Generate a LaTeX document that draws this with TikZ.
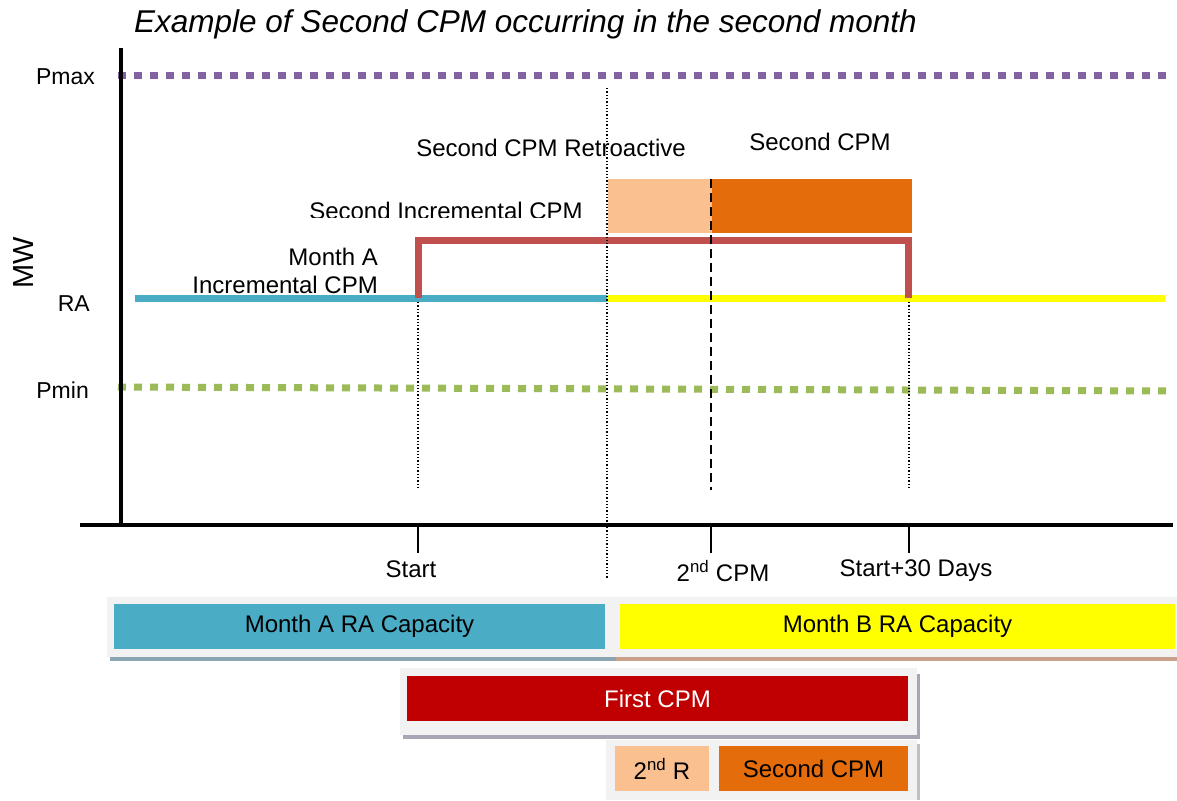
\documentclass[tikz,border=0pt]{standalone}
\usepackage{fontspec}
\setmainfont{Liberation Sans}
\usetikzlibrary{positioning}
\definecolor{pmaxPurple}{HTML}{8064A2}
\definecolor{pminGreen}{HTML}{9BBB59}
\definecolor{raBlue}{HTML}{4BACC6}
\definecolor{raYellow}{HTML}{FFFF00}
\definecolor{cpmRed}{HTML}{C0504D}
\definecolor{firstRed}{HTML}{C00000}
\definecolor{retroOrange}{HTML}{FAC090}
\definecolor{secondOrange}{HTML}{E46C0A}
\definecolor{frameGray}{HTML}{F2F2F2}
\definecolor{shadowBlue}{HTML}{8AA6B2}
\definecolor{shadowTan}{HTML}{C9A08A}
\definecolor{shadowGray}{HTML}{A8A6B4}
\begin{document}
\begin{tikzpicture}[x=1pt, y=-1pt,
        lbl/.style={font=\fontsize{24}{28}\selectfont, inner sep=0pt},
        level/.style={line width=7pt, dash pattern=on 8pt off 8pt},
        raline/.style={line width=7pt},
        guide/.style={dotted, line width=1.3pt},
        barbox/.style={minimum height=45pt, inner sep=0pt, font=\fontsize{24}{28}\selectfont},
        frame/.style={fill=frameGray}
        ]
        \useasboundingbox (0,0) rectangle (1177,800);
        
        % title
        \node[lbl, anchor=west, font=\itshape\fontsize{31.5}{34}\selectfont] (title) at (134,24) {Example of Second CPM occurring in the second month};
        
        % incremental blocks
        \fill[retroOrange] (608,179) rectangle (712,233);
        \fill[secondOrange] (712,179) rectangle (912,233);
        
        % levels
        \draw[level, pmaxPurple] (118,75) -- (1170,75);
        \draw[level, pminGreen] (118,387) -- (1170,391);
        \draw[raline, raBlue] (135,298) -- (607,298);
        \draw[raline, raYellow] (607,298) -- (1165,298);
        \draw[line width=7pt, cpmRed] (418,298) -- (418,240) -- (908,240) -- (908,298);
        
        % axes
        \draw[line width=4pt] (121,48) -- (121,527);
        \draw[line width=4pt] (80,525) -- (1173,525);
        
        % time marks
        \coordinate (tStart) at (418,525);
        \coordinate (tSecond) at (711,525);
        \coordinate (tEnd) at (909,525);
        \foreach \t in {tStart, tSecond, tEnd}
            \draw[line width=1.2pt] (\t) -- ++(0,28);
        \draw[guide] (418,302) -- (418,490);
        \draw[guide] (909,302) -- (909,490);
        \draw[guide] (607,88) -- (607,578);
        \draw[line width=2pt, dash pattern=on 9pt off 5pt] (711,179) -- (711,490);
        
        \node[lbl] (startLbl) at (411,569) {Start};
        \node[lbl] (secondLbl) at (723,571) {2\textsuperscript{nd} CPM};
        \node[lbl] (endLbl) at (916,571) {Start+30 Days};
        
        % y labels
        \node[lbl, anchor=east, font=\fontsize{23}{26}\selectfont] (pmax) at (95,77) {Pmax};
        \node[lbl, anchor=east, font=\fontsize{23}{26}\selectfont] (ra) at (90,304) {RA};
        \node[lbl, anchor=east, font=\fontsize{23}{26}\selectfont] (pmin) at (89,390) {Pmin};
        \node[lbl, rotate=90, font=\fontsize{29}{32}\selectfont] (mw) at (24,263) {MW};
        
        % chart labels
        \node[lbl] (retroLbl) at (551,148) {Second CPM Retroactive};
        \node[lbl] (secondCpmLbl) at (820,142) {Second CPM};
        \begin{scope}
            \clip (250,190) rectangle (600,217);
            \node[lbl] (incrLbl) at (446,211) {Second Incremental CPM};
        \end{scope}
        \node[lbl, anchor=east] (monthALbl) at (378,257) {Month A};
        \node[lbl, anchor=east] (incrALbl) at (378,285) {Incremental CPM};
        
        % legend frames
        \fill[shadowBlue] (110,603) rectangle (616,661);
        \fill[frame] (107,597) rectangle (613,657);
        \fill[shadowTan] (616,603) rectangle (1177,661);
        \fill[frame] (613,597) rectangle (1177,657);
        \fill[shadowGray] (403,674) rectangle (920,739);
        \fill[frame] (400,668) rectangle (917,735);
        \fill[gray!50] (609,744) rectangle (920,800);
        \fill[frame] (606,740) rectangle (917,800);
        
        % legend bars
        \node[barbox, fill=raBlue, minimum width=491pt] (monthA) at (359.5,626.5) {Month A RA Capacity};
        \node[barbox, fill=raYellow, minimum width=555pt] (monthB) at (897.5,626.5) {Month B RA Capacity};
        \node[barbox, fill=firstRed, text=white, minimum width=501pt] (firstCpm) at (657.5,698.5) {First CPM};
        \node[barbox, fill=retroOrange, minimum width=94pt] (retroBar) at (662,768.5) {2\textsuperscript{nd} R};
        \node[barbox, fill=secondOrange, minimum width=189pt] (secondBar) at (813.5,768.5) {Second CPM};
        
    \end{tikzpicture}
\end{document}
